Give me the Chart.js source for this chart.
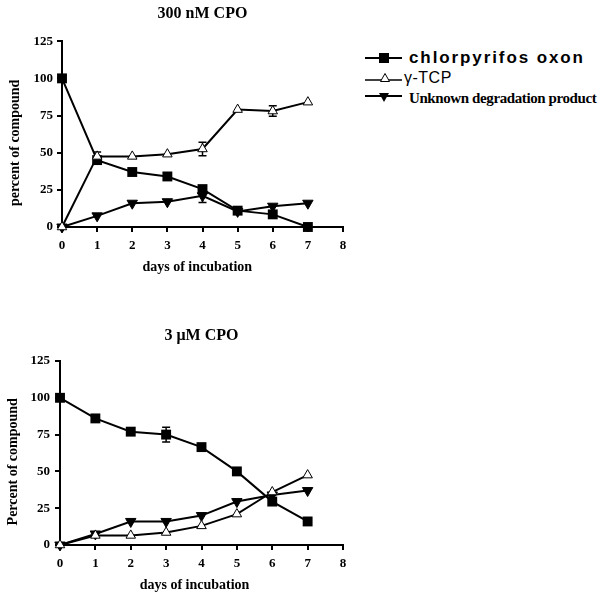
<!DOCTYPE html>
<html><head><meta charset="utf-8">
<script src="https://cdn.jsdelivr.net/npm/chart.js@4"></script>
<style>
body{margin:0;background:#fff;width:600px;height:599px;position:relative;overflow:hidden}
#c1{position:absolute;left:0;top:0}
#c2{position:absolute;left:0;top:300px}
.item{position:absolute;left:365px;white-space:nowrap;height:20px;line-height:20px}
.item svg{position:absolute;left:0;top:4px}
.item span{position:absolute;left:44px;top:0}
.sans{font-family:"Liberation Sans",Arial,sans-serif;font-weight:bold;font-size:17px}
.serif{font-family:"Liberation Serif","Times New Roman",serif;font-weight:bold;font-size:15px;letter-spacing:-0.4px}
</style></head><body>
<canvas id="c1" width="360" height="290"></canvas>
<canvas id="c2" width="360" height="299"></canvas>

<div class="item" style="top:48px">
  <svg width="40" height="12"><line x1="0" y1="6" x2="37" y2="6" stroke="#000" stroke-width="2"/><rect x="14" y="1" width="10" height="10" fill="#000"/></svg>
  <span class="sans" style="letter-spacing:1.9px">chlorpyrifos oxon</span>
</div>
<div class="item" style="top:68px">
  <svg width="40" height="12"><line x1="0" y1="8" x2="37" y2="8" stroke="#000" stroke-width="1.5"/><polygon points="20,1.5 24.5,9.5 15.5,9.5" fill="#fff" stroke="#000" stroke-width="1"/></svg>
  <span class="sans" style="font-weight:normal;font-size:16px;left:39px;letter-spacing:0.5px">γ-TCP</span>
</div>
<div class="item" style="top:88px">
  <svg width="40" height="12"><line x1="0" y1="4" x2="37" y2="4" stroke="#000" stroke-width="2"/><polygon points="14,1 24,1 19,10" fill="#000"/></svg>
  <span class="serif">Unknown degradation product</span>
</div>

<script>
// ---- data ----
const days = [0, 1, 2, 3, 4, 5, 6, 7];
const xTickValues = [0, 1, 2, 3, 4, 5, 6, 7, 8];
const yTickValues = [0, 25, 50, 75, 100, 125];

const seriesNames = ["chlorpyrifos oxon", "γ-TCP", "Unknown degradation product"];

// 300 nM CPO
const cpo300 = [100, 45, 37, 34, 25.5, 11, 8.5, 0];
const tcp300 = [0, 47.5, 47.5, 49, 52.5, 79, 78, 84];
const unk300 = [0, 7.5, 16, 17, 21, 10.5, 14, 16];
const cpo300Err = [0, 0, 0, 0, 0, 0, 0, 0];
const tcp300Err = [0, 3, 0, 0, 4.5, 0, 3.5, 0];
const unk300Err = [0, 0, 0, 0, 4.5, 0, 0, 0];

// 3 µM CPO
const cpo3 = [100, 86, 77, 75, 66.5, 50, 29.5, 16];
const tcp3 = [0, 6.5, 6.5, 8.5, 13, 21, 36, 47.5];
const unk3 = [0, 7.5, 16, 16, 20, 29.5, 34, 37];
const cpo3Err = [0, 0, 0, 5, 0, 0, 0, 0];
const tcp3Err = [0, 0, 0, 0, 0, 0, 0, 0];
const unk3Err = [0, 0, 0, 0, 0, 0, 0, 0];

const SERIF = '"Liberation Serif","Times New Roman",serif';

const errorBars = {
  id: 'errorBars',
  beforeDatasetsDraw(chart) {
    const ctx = chart.ctx;
    const xs = chart.scales.x, ys = chart.scales.y;
    ctx.save();
    ctx.strokeStyle = '#000';
    ctx.lineWidth = 1.5;
    chart.data.datasets.forEach(ds => {
      (ds.errors || []).forEach((e, i) => {
        if (!e) return;
        const pt = ds.data[i];
        const x = xs.getPixelForValue(pt.x);
        const y1 = ys.getPixelForValue(pt.y + e);
        const y2 = ys.getPixelForValue(pt.y - e);
        ctx.beginPath();
        ctx.moveTo(x, y1); ctx.lineTo(x, y2);
        ctx.moveTo(x - 4, y1); ctx.lineTo(x + 4, y1);
        ctx.moveTo(x - 4, y2); ctx.lineTo(x + 4, y2);
        ctx.stroke();
      });
    });
    ctx.restore();
  }
};

function pts(vals) { return days.map((d, i) => ({x: d, y: vals[i]})); }

function makeChart(id, title, cpo, tcp, unk, errs, L) {
  return new Chart(document.getElementById(id), {
    type: 'line',
    data: {
      datasets: [
        {label: seriesNames[1], data: pts(tcp), errors: errs[1], borderColor: '#000', borderWidth: 2,
         pointStyle: 'triangle', pointRadius: 5.5, pointBackgroundColor: '#fff', pointBorderColor: '#000', pointBorderWidth: 1, clip: false},
        {label: seriesNames[2], data: pts(unk), errors: errs[2], borderColor: '#000', borderWidth: 2,
         pointStyle: 'triangle', pointRotation: 180, pointRadius: 6, pointBackgroundColor: '#000', pointBorderColor: '#000', pointBorderWidth: 1, clip: false},
        {label: seriesNames[0], data: pts(cpo), errors: errs[0], borderColor: '#000', borderWidth: 2,
         pointStyle: 'rect', pointRadius: 7, pointBackgroundColor: '#000', pointBorderColor: '#000', pointBorderWidth: 0, clip: false}
      ]
    },
    options: {
      responsive: false,
      animation: false,
      layout: {padding: {left: 0, right: L.padRight, top: 0, bottom: 0}},
      plugins: {
        legend: {display: false},
        tooltip: {enabled: false},
        title: {display: true, text: title, color: '#000', fullSize: false,
          font: {family: SERIF, size: 16, weight: 'bold'},
          padding: {top: L.titleTop, bottom: L.titleBottom}}
      },
      scales: {
        x: {
          type: 'linear', min: 0, max: 8,
          afterBuildTicks: s => { s.ticks = xTickValues.map(v => ({value: v})); },
          afterFit: s => { s.height = L.xHeight; },
          grid: {drawOnChartArea: false, drawTicks: true, tickLength: 5, color: '#000', lineWidth: 2},
          border: {display: true, color: '#000', width: 2},
          ticks: {color: '#000', padding: 6, font: {family: SERIF, size: 13, weight: 'bold'}, maxRotation: 0},
          title: {display: true, text: 'days of incubation' + L.xTitlePad, color: '#000',
            font: {family: SERIF, size: 14, weight: 'bold'}, padding: {top: 0, bottom: L.xTitleBottom}}
        },
        y: {
          min: 0, max: 125,
          afterBuildTicks: s => { s.ticks = yTickValues.map(v => ({value: v})); },
          afterFit: s => { s.width = L.yWidth; },
          grid: {drawOnChartArea: false, drawTicks: true, tickLength: 5, color: '#000', lineWidth: 2},
          border: {display: true, color: '#000', width: 2},
          ticks: {color: '#000', padding: L.yTickPad, font: {family: SERIF, size: 13, weight: 'bold'}},
          title: {display: true, text: L.yTitle + '     ', color: '#000',
            font: {family: SERIF, size: 14, weight: 'bold'}, padding: {top: L.yTitleTop, bottom: 0}}
        }
      }
    },
    plugins: [errorBars]
  });
}

makeChart('c1', '300 nM CPO', cpo300, tcp300, unk300, [cpo300Err, tcp300Err, unk300Err],
  {padRight: 17, titleTop: 4, titleBottom: 18, xHeight: 63, xTitleBottom: 14.6, xTitlePad: '   ', yWidth: 62, yTickPad: 4, yTitleTop: 6.6, yTitle: 'percent of compound'});
makeChart('c2', '3 μM CPO', cpo3, tcp3, unk3, [cpo3Err, tcp3Err, unk3Err],
  {padRight: 17, titleTop: 26.4, titleBottom: 15.4, xHeight: 54, xTitleBottom: 5.6, xTitlePad: '    ', yWidth: 60, yTickPad: 5, yTitleTop: 4.6, yTitle: 'Percent of compound'});
</script>
</body></html>
